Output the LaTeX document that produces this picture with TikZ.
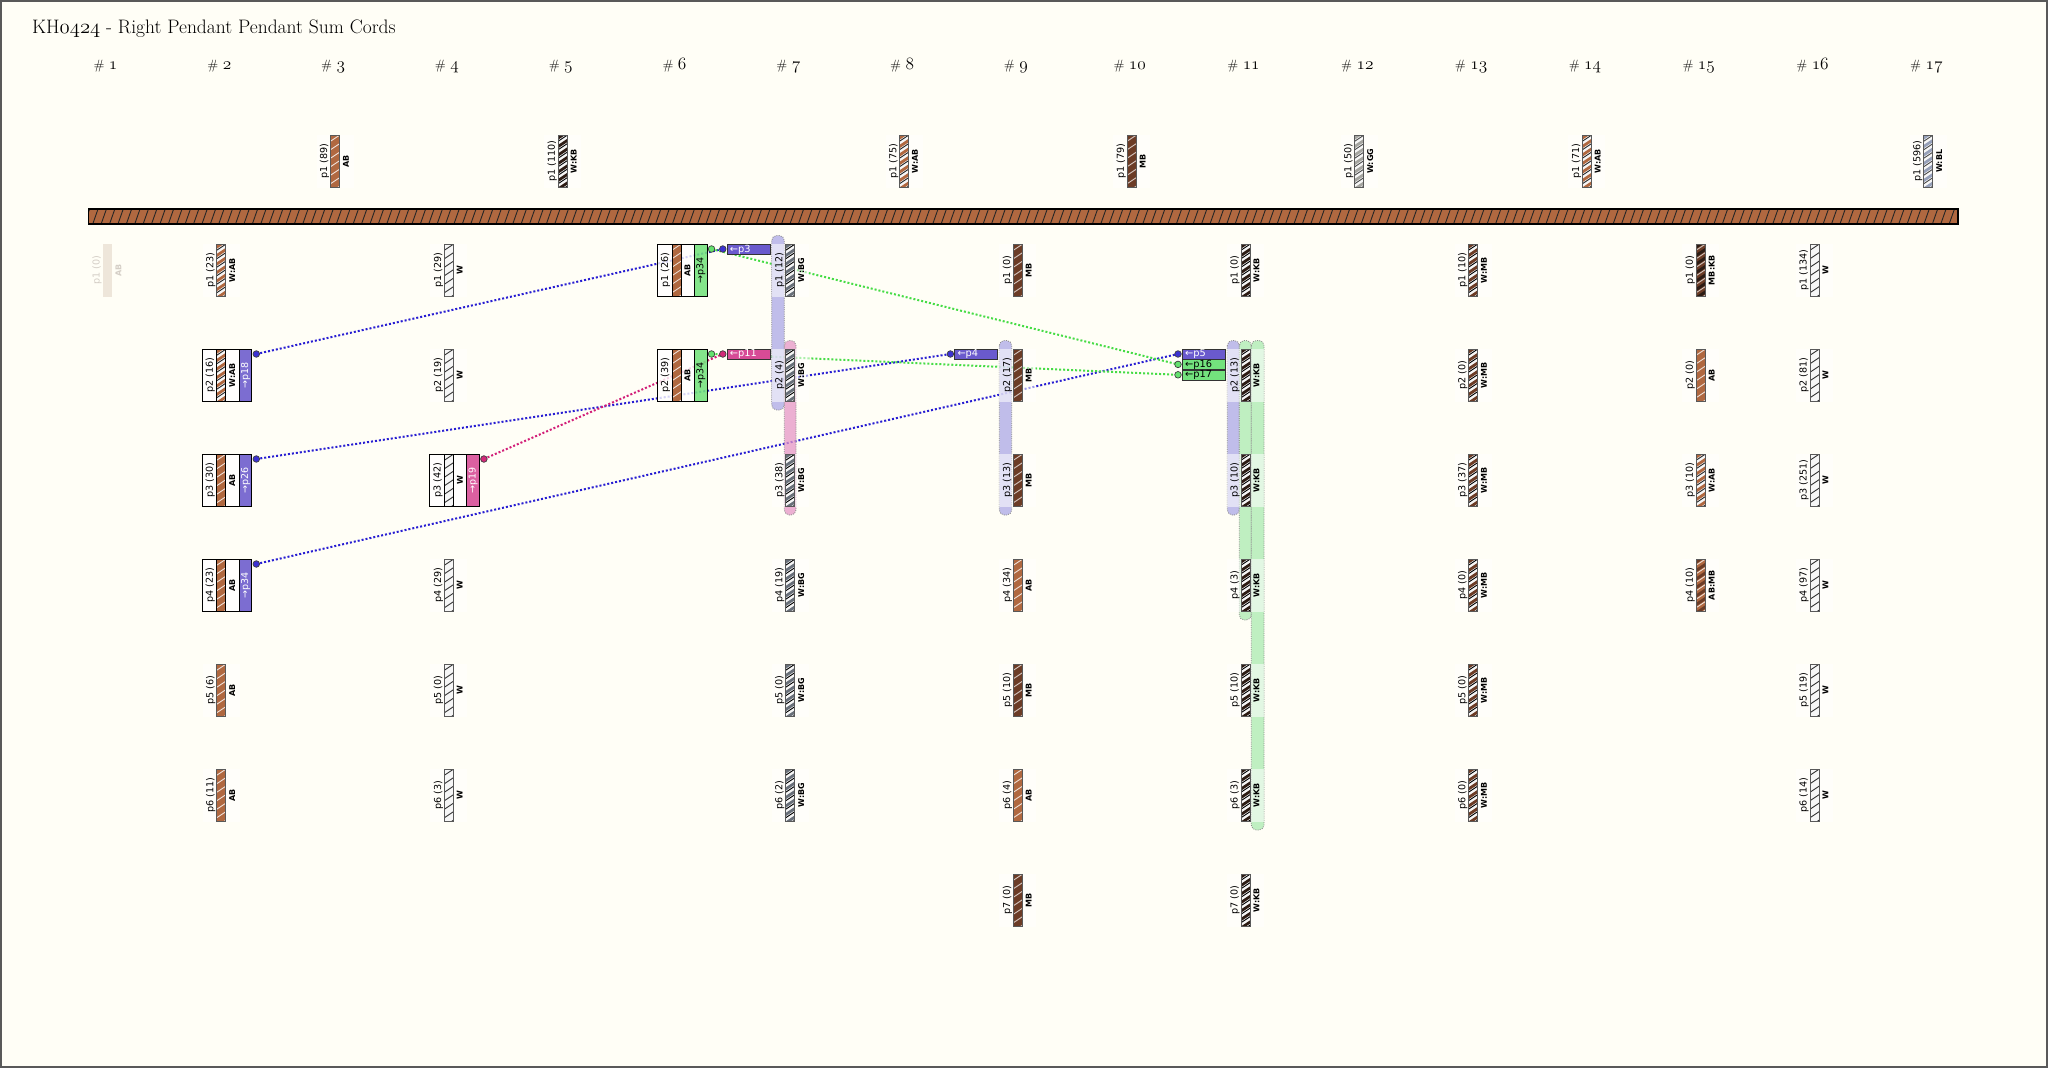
\documentclass[tikz,border=0pt]{standalone}
\usepackage{fontspec}
\newfontfamily\djv{DejaVu Sans}
\newcommand\osn[1]{{\usefont{OML}{cmm}{m}{it}#1}}
\definecolor{bgc}{RGB}{255,254,246}
\definecolor{abr}{RGB}{176,104,64}
\definecolor{mbr}{RGB}{108,60,38}
\definecolor{kbr}{RGB}{45,28,20}
\definecolor{wht}{RGB}{246,246,246}
\definecolor{bgy}{RGB}{105,112,122}
\definecolor{ggy}{RGB}{165,165,160}
\definecolor{blg}{RGB}{150,160,185}
\definecolor{fadec}{RGB}{238,230,218}
\definecolor{fadetxt}{RGB}{212,206,198}
\definecolor{tagblue}{RGB}{106,90,205}
\definecolor{taggreen}{RGB}{115,226,125}
\definecolor{tagpink}{RGB}{215,75,150}
\definecolor{lineblue}{RGB}{40,30,210}
\definecolor{linegreen}{RGB}{70,220,70}
\definecolor{linepink}{RGB}{210,30,120}
\definecolor{dotblue}{RGB}{60,50,210}
\definecolor{dotgreen}{RGB}{100,225,110}
\definecolor{dotpink}{RGB}{210,40,120}
\definecolor{stripblue}{RGB}{172,168,230}
\definecolor{strippink}{RGB}{230,150,198}
\definecolor{stripgreen}{RGB}{170,234,176}
% cord types: fill, band, line
\colorlet{AB-f}{abr}\colorlet{AB-b}{abr}\colorlet{AB-l}{white!80!abr}
\colorlet{MB-f}{mbr}\colorlet{MB-b}{mbr}\colorlet{MB-l}{white!72!mbr}
\colorlet{W-f}{wht}\colorlet{W-b}{wht}\colorlet{W-l}{black!80}
\colorlet{WAB-f}{wht}\colorlet{WAB-b}{abr}\colorlet{WAB-l}{black!85}
\colorlet{WKB-f}{wht}\colorlet{WKB-b}{kbr}\colorlet{WKB-l}{black}
\colorlet{WBG-f}{wht}\colorlet{WBG-b}{bgy}\colorlet{WBG-l}{black}
\colorlet{WMB-f}{wht}\colorlet{WMB-b}{mbr}\colorlet{WMB-l}{black}
\colorlet{WGG-f}{wht}\colorlet{WGG-b}{ggy}\colorlet{WGG-l}{black!70}
\colorlet{WBL-f}{wht}\colorlet{WBL-b}{blg}\colorlet{WBL-l}{black!70}
\colorlet{MBKB-f}{mbr}\colorlet{MBKB-b}{kbr}\colorlet{MBKB-l}{white!70!mbr}
\colorlet{ABMB-f}{abr}\colorlet{ABMB-b}{mbr}\colorlet{ABMB-l}{white!80!abr}
\tikzset{
  laba/.style={font={\djv\fontsize{9.6}{10}\selectfont},rotate=90,inner sep=0pt},
  labb/.style={font={\djv\bfseries\fontsize{8}{9}\selectfont},rotate=90,inner sep=0pt},
  boxlab/.style={font={\djv\fontsize{9.5}{10}\selectfont},rotate=90,inner sep=0pt},
  tagnode/.style={draw=black!80,line width=0.8pt,font={\djv\fontsize{9.8}{10}\selectfont},
    text width=37pt,align=left,inner xsep=3pt,inner ysep=0pt,minimum height=10pt,anchor=north east},
  cordedge/.style={draw=black!65,line width=0.7pt},
  boxedge/.style={draw=black,line width=1pt},
  hlstrip/.style={draw=black!45,line width=0.8pt,dash pattern=on 1pt off 1.2pt,rounded corners=5pt,fill opacity=0.75},
  conn/.style={line width=2pt,dash pattern=on 2pt off 2pt},
  dotmark/.style={draw=black!75,line width=0.7pt},
  hdr/.style={font={\fontsize{13.5}{15}\selectfont},anchor=base,inner sep=0pt},
}
\newcommand\cordat[3]{%
  \begin{scope}
    \clip (#1-4.5,#2) rectangle (#1+4.5,#2+52.5);
    \fill[#3-f] (#1-4.5,#2) rectangle (#1+4.5,#2+52.5);
    \foreach \k in {0,...,7}{%
      \draw[#3-b,line width=2.8pt] (#1-6,#2+\k*8.5+4) -- (#1+6,#2+\k*8.5-4);
      \draw[#3-l,line width=0.9pt] (#1-6,#2+\k*8.5+7.2) -- (#1+6,#2+\k*8.5-0.8);
    }
  \end{scope}
  \draw[cordedge] (#1-4.5,#2) rectangle (#1+4.5,#2+52.5);
}
\newcommand\pend[5]{%
  \pgfmathsetmacro\px{107.5+(#1-1)*113.8}%
  \pgfmathsetmacro\py{ifthenelse(#2==0,135,244+(#2-1)*105)}%
  \fill[white,fill opacity=0.55] (\px-18.5,\py) rectangle (\px+18.5,\py+52.5);
  \cordat{\px}{\py}{#3}
  \node[laba] (pa#1r#2) at (\px-10.5,\py+26.25) {#4};
  \node[labb] (pb#1r#2) at (\px+10.9,\py+26.25) {#5};
}
\newcommand\pbox[8]{%
  \pgfmathsetmacro\px{107.5+(#1-1)*113.8}%
  \pgfmathsetmacro\py{244+(#2-1)*105}%
  \fill[white,fill opacity=0.8] (\px-19,\py) rectangle (\px+18,\py+52.5);
  \fill[#6,fill opacity=0.88] (\px+18,\py) rectangle (\px+30.5,\py+52.5);
  \cordat{\px}{\py}{#3}
  \node[laba] (pa#1r#2) at (\px-11,\py+26.25) {#4};
  \node[labb] (pb#1r#2) at (\px+11,\py+26.25) {#5};
  \node[boxlab,text=#8] (pc#1r#2) at (\px+24.25,\py+26.25) {#7};
  \draw[boxedge] (\px-19,\py) rectangle (\px+30.5,\py+52.5)
    (\px+18,\py) -- (\px+18,\py+52.5)
    (\px-4.5,\py) -- (\px-4.5,\py+52.5)
    (\px+4.5,\py) -- (\px+4.5,\py+52.5);
}
\newcommand\pstrip[6]{%
  \pgfmathsetmacro\px{107.5+(#1-1)*113.8}%
  \pgfmathsetmacro\xa{\px+(#4)}\pgfmathsetmacro\xb{\px+(#5)}%
  \pgfmathsetmacro\ya{244+(#2-1)*105-8.5}\pgfmathsetmacro\yb{244+(#3-1)*105+61}%
  \draw[hlstrip,fill=#6] (\xa,\ya) rectangle (\xb,\yb);
}
\newcommand\ptag[6]{%
  \pgfmathsetmacro\px{107.5+(#1-1)*113.8}%
  \pgfmathsetmacro\ty{244+(#2-1)*105+#3*10.4}%
  \node[tagnode,fill=#4,text=#6] (tg#1r#2k#3) at (\px-20,\ty) {#5};
}
\newcommand\bdot[3]{\coordinate (#1) at ({107.5+(#2-1)*113.8+35},{244+(#3-1)*105+5});}
\newcommand\tdot[4]{\coordinate (#1) at ({107.5+(#2-1)*113.8-67.5},{244+(#3-1)*105+5+#4*10.4});}
\begin{document}
\begin{tikzpicture}[x=1pt,y=-1pt]
\useasboundingbox (0,0) rectangle (2048,1068);
\fill[bgc] (0,0) rectangle (2048,1068);
% title and headers
\node[anchor=base west,inner sep=0pt,font={\fontsize{19.5}{24}\selectfont}] (title) at (32,33.3)
  {KH{\fontsize{20.74}{24}\selectfont\osn{0424}} - Right Pendant Pendant Sum Cords};
\foreach \i in {1,...,17}{
  \node[hdr] (h\i) at ({107.5+(\i-1)*113.8-2},69.2) {\# {\fontsize{17.28}{18}\selectfont\osn{\i}}};
}
% main cord
\begin{scope}
  \clip (88.4,209) rectangle (1958,224);
  \fill[abr] (88.4,209) rectangle (1958,224);
  \foreach \k in {0,...,224}{
    \draw[black!85,line width=0.9pt] ({84+\k*8.4},225) -- ({90+\k*8.4},208);
  }
\end{scope}
\draw[black,line width=1.6pt] (88.4,209) rectangle (1958,224);
% connector end points
\bdot{d2r2}{2}{2}\bdot{d2r3}{2}{3}\bdot{d2r4}{2}{4}
\bdot{d4r3}{4}{3}\bdot{d6r1}{6}{1}\bdot{d6r2}{6}{2}
\tdot{t7r1}{7}{1}{0}\tdot{t7r2}{7}{2}{0}\tdot{t9r2}{9}{2}{0}
\tdot{t11a}{11}{2}{0}\tdot{t11b}{11}{2}{1}\tdot{t11c}{11}{2}{2}
% connectors
\draw[conn,lineblue] (d2r2) -- (t7r1);
\draw[conn,lineblue] (d2r3) -- (t9r2);
\draw[conn,lineblue] (d2r4) -- (t11a);
\draw[conn,linepink] (d4r3) -- (t7r2);
\draw[conn,linegreen] (d6r1) -- (t11b);
\draw[conn,linegreen] (d6r2) -- (t11c);
% highlight strips
\pstrip{7}{1}{2}{-18.6}{-6}{stripblue}
\pstrip{7}{2}{3}{-6}{5.7}{strippink}
\pstrip{9}{2}{3}{-18.6}{-6.2}{stripblue}
\pstrip{11}{2}{3}{-18.2}{-6.2}{stripblue}
\pstrip{11}{2}{4}{-6.2}{5.8}{stripgreen}
\pstrip{11}{2}{6}{5.8}{18.5}{stripgreen}
% top pendants
\pend{3}{0}{AB}{p1 (89)}{AB}
\pend{5}{0}{WKB}{p1 (110)}{W:KB}
\pend{8}{0}{WAB}{p1 (75)}{W:AB}
\pend{10}{0}{MB}{p1 (79)}{MB}
\pend{12}{0}{WGG}{p1 (50)}{W:GG}
\pend{14}{0}{WAB}{p1 (71)}{W:AB}
\pend{17}{0}{WBL}{p1 (596)}{W:BL}
% column 1 (faded)
\fill[fadec] (103,244) rectangle (112,296.5);
\node[laba,text=fadetxt] (pa1r1) at (97,270.25) {p1 (0)};
\node[labb,text=fadetxt] (pb1r1) at (118.4,270.25) {AB};
% column 2
\pend{2}{1}{WAB}{p1 (23)}{W:AB}
\pbox{2}{2}{WAB}{p2 (16)}{W:AB}{tagblue}{→p18}{white}
\pbox{2}{3}{AB}{p3 (30)}{AB}{tagblue}{→p26}{white}
\pbox{2}{4}{AB}{p4 (23)}{AB}{tagblue}{→p34}{white}
\pend{2}{5}{AB}{p5 (6)}{AB}
\pend{2}{6}{AB}{p6 (11)}{AB}
% column 4
\pend{4}{1}{W}{p1 (29)}{W}
\pend{4}{2}{W}{p2 (19)}{W}
\pbox{4}{3}{W}{p3 (42)}{W}{tagpink}{→p19}{white}
\pend{4}{4}{W}{p4 (29)}{W}
\pend{4}{5}{W}{p5 (0)}{W}
\pend{4}{6}{W}{p6 (3)}{W}
% column 6
\pbox{6}{1}{AB}{p1 (26)}{AB}{taggreen}{→p34}{black}
\pbox{6}{2}{AB}{p2 (39)}{AB}{taggreen}{→p34}{black}
% column 7
\pend{7}{1}{WBG}{p1 (12)}{W:BG}
\pend{7}{2}{WBG}{p2 (4)}{W:BG}
\pend{7}{3}{WBG}{p3 (38)}{W:BG}
\pend{7}{4}{WBG}{p4 (19)}{W:BG}
\pend{7}{5}{WBG}{p5 (0)}{W:BG}
\pend{7}{6}{WBG}{p6 (2)}{W:BG}
% column 9
\pend{9}{1}{MB}{p1 (0)}{MB}
\pend{9}{2}{MB}{p2 (17)}{MB}
\pend{9}{3}{MB}{p3 (13)}{MB}
\pend{9}{4}{AB}{p4 (34)}{AB}
\pend{9}{5}{MB}{p5 (10)}{MB}
\pend{9}{6}{AB}{p6 (4)}{AB}
\pend{9}{7}{MB}{p7 (0)}{MB}
% column 11
\pend{11}{1}{WKB}{p1 (0)}{W:KB}
\pend{11}{2}{WKB}{p2 (13)}{W:KB}
\pend{11}{3}{WKB}{p3 (10)}{W:KB}
\pend{11}{4}{WKB}{p4 (3)}{W:KB}
\pend{11}{5}{WKB}{p5 (10)}{W:KB}
\pend{11}{6}{WKB}{p6 (3)}{W:KB}
\pend{11}{7}{WKB}{p7 (0)}{W:KB}
% column 13
\pend{13}{1}{WMB}{p1 (10)}{W:MB}
\pend{13}{2}{WMB}{p2 (0)}{W:MB}
\pend{13}{3}{WMB}{p3 (37)}{W:MB}
\pend{13}{4}{WMB}{p4 (0)}{W:MB}
\pend{13}{5}{WMB}{p5 (0)}{W:MB}
\pend{13}{6}{WMB}{p6 (0)}{W:MB}
% column 15
\pend{15}{1}{MBKB}{p1 (0)}{MB:KB}
\pend{15}{2}{AB}{p2 (0)}{AB}
\pend{15}{3}{WAB}{p3 (10)}{W:AB}
\pend{15}{4}{ABMB}{p4 (10)}{AB:MB}
% column 16
\pend{16}{1}{W}{p1 (134)}{W}
\pend{16}{2}{W}{p2 (81)}{W}
\pend{16}{3}{W}{p3 (251)}{W}
\pend{16}{4}{W}{p4 (97)}{W}
\pend{16}{5}{W}{p5 (19)}{W}
\pend{16}{6}{W}{p6 (14)}{W}
% sum tags
\ptag{7}{1}{0}{tagblue}{←p3}{white}
\ptag{7}{2}{0}{tagpink}{←p11}{white}
\ptag{9}{2}{0}{tagblue}{←p4}{white}
\ptag{11}{2}{0}{tagblue}{←p5}{white}
\ptag{11}{2}{1}{taggreen}{←p16}{black}
\ptag{11}{2}{2}{taggreen}{←p17}{black}
% end dots
\filldraw[dotmark,fill=dotblue] (d2r2) circle (3.3) (d2r3) circle (3.3) (d2r4) circle (3.3)
  (t7r1) circle (3.3) (t9r2) circle (3.3) (t11a) circle (3.3);
\filldraw[dotmark,fill=dotpink] (d4r3) circle (3.3) (t7r2) circle (3.3);
\filldraw[dotmark,fill=dotgreen] (d6r1) circle (3.3) (d6r2) circle (3.3) (t11b) circle (3.3) (t11c) circle (3.3);
% frame
\draw[black!65,line width=2pt] (1,1) rectangle (2047,1067);
\end{tikzpicture}
\end{document}
